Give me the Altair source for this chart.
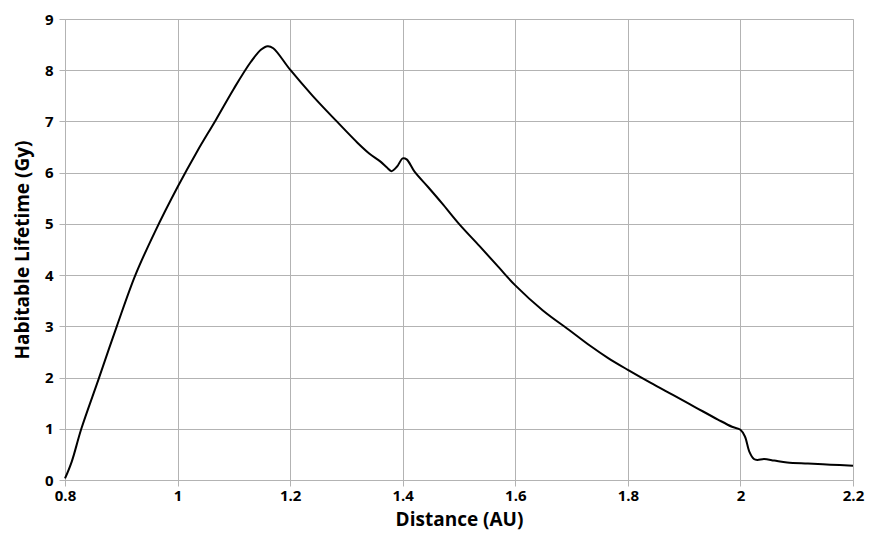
import altair as alt
import pandas as pd

# Distance from the star (AU) and habitable lifetime (Gy)
distance_au = [0.800, 0.812, 0.829, 0.860, 0.892, 0.925, 0.960, 1.000, 1.035, 1.068,
               1.100, 1.130, 1.148, 1.160, 1.170, 1.200, 1.240, 1.282, 1.320, 1.341,
               1.360, 1.372, 1.380, 1.390, 1.400, 1.407, 1.421, 1.445, 1.470, 1.500,
               1.537, 1.570, 1.600, 1.649, 1.698, 1.733, 1.765, 1.800, 1.840,
               1.880, 1.920, 1.960, 1.985, 2.000, 2.008, 2.016, 2.024, 2.030, 2.042,
               2.060, 2.083, 2.120, 2.160, 2.200]
lifetime_gy = [0.03, 0.36, 1.00, 1.98, 3.00, 4.00, 4.85, 5.72, 6.42, 7.03,
               7.64, 8.16, 8.40, 8.47, 8.43, 8.01, 7.50, 7.01, 6.58, 6.37,
               6.22, 6.10, 6.03, 6.12, 6.28, 6.26, 6.02, 5.72, 5.40, 5.00,
               4.56, 4.16, 3.80, 3.31, 2.91, 2.62, 2.38, 2.15, 1.90,
               1.66, 1.42, 1.18, 1.04, 0.98, 0.85, 0.55, 0.41, 0.39, 0.41,
               0.38, 0.34, 0.32, 0.30, 0.28]

x_ticks = [0.8, 1.0, 1.2, 1.4, 1.6, 1.8, 2.0, 2.2]
y_ticks = [0, 1, 2, 3, 4, 5, 6, 7, 8, 9]

df = pd.DataFrame({"distance": distance_au, "lifetime": lifetime_gy})

font = "Open Sans"
grid_color = "#b3b3b3"

chart = (
    alt.Chart(df)
    .mark_line(color="#000000", strokeWidth=2, interpolate="catmull-rom")
    .encode(
        x=alt.X(
            "distance:Q",
            title="Distance (AU)",
            scale=alt.Scale(domain=[0.8, 2.2], nice=False, zero=False),
            axis=alt.Axis(
                values=x_ticks,
                labelExpr="format(datum.value, '.1~f')",
                grid=True,
                gridColor=grid_color,
                domainColor=grid_color,
                tickColor=grid_color,
                tickSize=6,
                labelFont=font,
                labelFontWeight="bold",
                labelFontSize=15,
                labelColor="#000000",
                labelPadding=2,
                labelFlush=False,
                titleFont=font,
                titleFontWeight="bold",
                titleFontSize=19,
                titleColor="#000000",
                titlePadding=7,
            ),
        ),
        y=alt.Y(
            "lifetime:Q",
            title="Habitable Lifetime (Gy)",
            scale=alt.Scale(domain=[0, 9], nice=False),
            axis=alt.Axis(
                values=y_ticks,
                grid=True,
                gridColor=grid_color,
                domainColor=grid_color,
                tickColor=grid_color,
                tickSize=6,
                labelFont=font,
                labelFontWeight="bold",
                labelFontSize=15,
                labelColor="#000000",
                labelPadding=6,
                labelFlush=False,
                titleFont=font,
                titleFontWeight="bold",
                titleFontSize=19,
                titleColor="#000000",
                titlePadding=12,
            ),
        ),
    )
    .properties(
        width=788,
        height=461,
        autosize=alt.AutoSizeParams(type="none"),
        padding={"left": 65, "top": 19, "right": 16, "bottom": 67},
    )
    .configure_view(stroke=None)
    .configure(background="#ffffff")
)

chart.save("out.html", embed_options={"renderer": "svg", "actions": False})
